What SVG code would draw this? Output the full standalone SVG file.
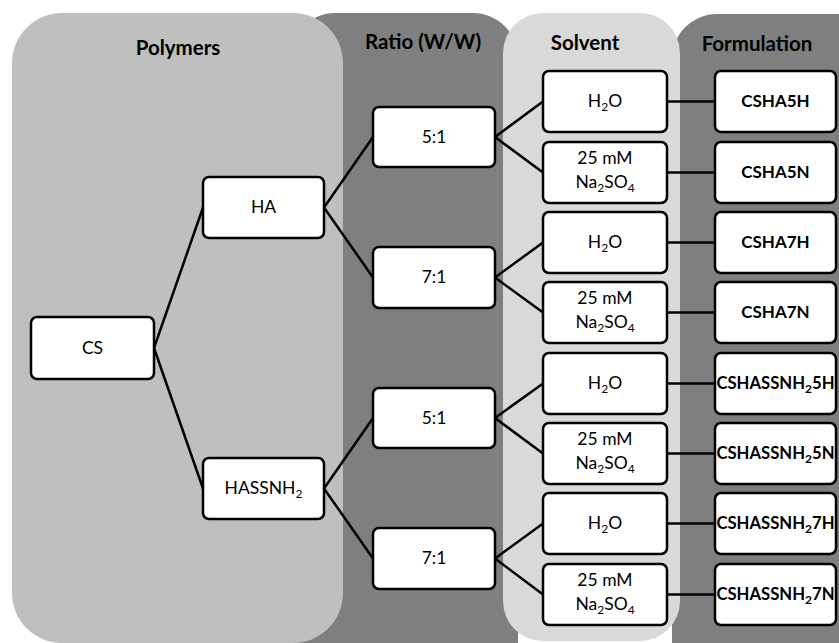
<svg xmlns="http://www.w3.org/2000/svg" width="839" height="643" viewBox="0 0 839 643">
<style>
.box{fill:#fff;stroke:#000;stroke-width:2.5}
.t{font-family:Lato,"Open Sans",sans-serif;font-size:17.5px;fill:#000;text-anchor:middle}
.b{font-weight:bold;font-size:17px}
.l{font-size:16.7px}
.h{font-family:Lato,"Open Sans",sans-serif;font-size:20.5px;font-weight:bold;fill:#000;text-anchor:middle}
.s{font-size:12px}
.conn line{stroke:#000;stroke-width:2.5}
</style>
<rect width="839" height="643" fill="#fff"/>
<g id="panel-formulation"><rect x="672" y="14" width="220" height="680" rx="45" fill="#7f7f7f"/><text class="h" x="757" y="51">Formulation</text></g>
<g id="panel-ratio"><rect x="290" y="13" width="228" height="680" rx="45" fill="#7f7f7f"/><text class="h" x="423" y="49">Ratio (W/W)</text></g>
<g id="panel-solvent"><rect x="503" y="13" width="177" height="628" rx="40" fill="#d9d9d9"/><text class="h" x="585" y="50">Solvent</text></g>
<g id="panel-polymers"><rect x="12" y="13" width="331" height="630" rx="50" fill="#bfbfbf"/><text class="h" x="178" y="55">Polymers</text></g>
<g class="conn" id="connectors">
<line x1="154" y1="348" x2="203" y2="207.5"/>
<line x1="154" y1="348" x2="203" y2="488.5"/>
<line x1="324" y1="207.5" x2="373" y2="137"/>
<line x1="324" y1="207.5" x2="373" y2="277.5"/>
<line x1="324" y1="488.5" x2="373" y2="418"/>
<line x1="324" y1="488.5" x2="373" y2="558.5"/>
<line x1="495" y1="137" x2="543" y2="101.5"/>
<line x1="495" y1="137" x2="543" y2="172.5"/>
<line x1="495" y1="277.5" x2="543" y2="242.5"/>
<line x1="495" y1="277.5" x2="543" y2="312.5"/>
<line x1="495" y1="418" x2="543" y2="383.5"/>
<line x1="495" y1="418" x2="543" y2="453.5"/>
<line x1="495" y1="558.5" x2="543" y2="523.5"/>
<line x1="495" y1="558.5" x2="543" y2="594.5"/>
<line x1="667" y1="101.5" x2="715" y2="101.5"/>
<line x1="667" y1="172.5" x2="715" y2="172.5"/>
<line x1="667" y1="242.5" x2="715" y2="242.5"/>
<line x1="667" y1="312.5" x2="715" y2="312.5"/>
<line x1="667" y1="383.5" x2="715" y2="383.5"/>
<line x1="667" y1="453.5" x2="715" y2="453.5"/>
<line x1="667" y1="523.5" x2="715" y2="523.5"/>
<line x1="667" y1="594.5" x2="715" y2="594.5"/>
</g>
<g id="cs"><rect class="box" x="31" y="317" width="123" height="62" rx="6"/><text class="t" x="92.5" y="354">CS</text></g>
<g id="ha"><rect class="box" x="203" y="177" width="121" height="61" rx="6"/><text class="t" x="263.5" y="213">HA</text></g>
<g id="hassnh2"><rect class="box" x="203" y="458" width="121" height="61" rx="6"/><text class="t" x="263.5" y="494">HASSNH<tspan class="s" dy="4">2</tspan></text></g>
<g id="r1"><rect class="box" x="373" y="107" width="122" height="60" rx="6"/><text class="t" x="434" y="143">5:1</text></g>
<g id="r2"><rect class="box" x="373" y="247" width="122" height="61" rx="6"/><text class="t" x="434" y="283">7:1</text></g>
<g id="r3"><rect class="box" x="373" y="388" width="122" height="60" rx="6"/><text class="t" x="434" y="424">5:1</text></g>
<g id="r4"><rect class="box" x="373" y="528" width="122" height="61" rx="6"/><text class="t" x="434" y="564">7:1</text></g>
<g id="s1"><rect class="box" x="543" y="71" width="124" height="61" rx="6"/><text class="t" x="605" y="107">H<tspan class="s" dy="4">2</tspan><tspan dy="-4">O</tspan></text></g>
<g id="s2"><rect class="box" x="543" y="142" width="124" height="61" rx="6"/><text class="t" x="605" y="164">25 mM</text><text class="t" x="605" y="188">Na<tspan class="s" dy="4">2</tspan><tspan dy="-4">SO</tspan><tspan class="s" dy="4">4</tspan></text></g>
<g id="s3"><rect class="box" x="543" y="212" width="124" height="61" rx="6"/><text class="t" x="605" y="248">H<tspan class="s" dy="4">2</tspan><tspan dy="-4">O</tspan></text></g>
<g id="s4"><rect class="box" x="543" y="282" width="124" height="61" rx="6"/><text class="t" x="605" y="304">25 mM</text><text class="t" x="605" y="328">Na<tspan class="s" dy="4">2</tspan><tspan dy="-4">SO</tspan><tspan class="s" dy="4">4</tspan></text></g>
<g id="s5"><rect class="box" x="543" y="353" width="124" height="61" rx="6"/><text class="t" x="605" y="389">H<tspan class="s" dy="4">2</tspan><tspan dy="-4">O</tspan></text></g>
<g id="s6"><rect class="box" x="543" y="423" width="124" height="61" rx="6"/><text class="t" x="605" y="445">25 mM</text><text class="t" x="605" y="469">Na<tspan class="s" dy="4">2</tspan><tspan dy="-4">SO</tspan><tspan class="s" dy="4">4</tspan></text></g>
<g id="s7"><rect class="box" x="543" y="493" width="124" height="61" rx="6"/><text class="t" x="605" y="529">H<tspan class="s" dy="4">2</tspan><tspan dy="-4">O</tspan></text></g>
<g id="s8"><rect class="box" x="543" y="564" width="124" height="61" rx="6"/><text class="t" x="605" y="586">25 mM</text><text class="t" x="605" y="610">Na<tspan class="s" dy="4">2</tspan><tspan dy="-4">SO</tspan><tspan class="s" dy="4">4</tspan></text></g>
<g id="f1"><rect class="box" x="715" y="71" width="121" height="61" rx="6"/><text class="t b" x="775.5" y="107">CSHA5H</text></g>
<g id="f2"><rect class="box" x="715" y="142" width="121" height="61" rx="6"/><text class="t b" x="775.5" y="178">CSHA5N</text></g>
<g id="f3"><rect class="box" x="715" y="212" width="121" height="61" rx="6"/><text class="t b" x="775.5" y="248">CSHA7H</text></g>
<g id="f4"><rect class="box" x="715" y="282" width="121" height="61" rx="6"/><text class="t b" x="775.5" y="318">CSHA7N</text></g>
<g id="f5"><rect class="box" x="715" y="353" width="121" height="61" rx="6"/><text class="t b l" x="775.5" y="389">CSHASSNH<tspan class="s" dy="4">2</tspan><tspan dy="-4">5H</tspan></text></g>
<g id="f6"><rect class="box" x="715" y="423" width="121" height="61" rx="6"/><text class="t b l" x="775.5" y="459">CSHASSNH<tspan class="s" dy="4">2</tspan><tspan dy="-4">5N</tspan></text></g>
<g id="f7"><rect class="box" x="715" y="493" width="121" height="61" rx="6"/><text class="t b l" x="775.5" y="529">CSHASSNH<tspan class="s" dy="4">2</tspan><tspan dy="-4">7H</tspan></text></g>
<g id="f8"><rect class="box" x="715" y="564" width="121" height="61" rx="6"/><text class="t b l" x="775.5" y="600">CSHASSNH<tspan class="s" dy="4">2</tspan><tspan dy="-4">7N</tspan></text></g>
</svg>
